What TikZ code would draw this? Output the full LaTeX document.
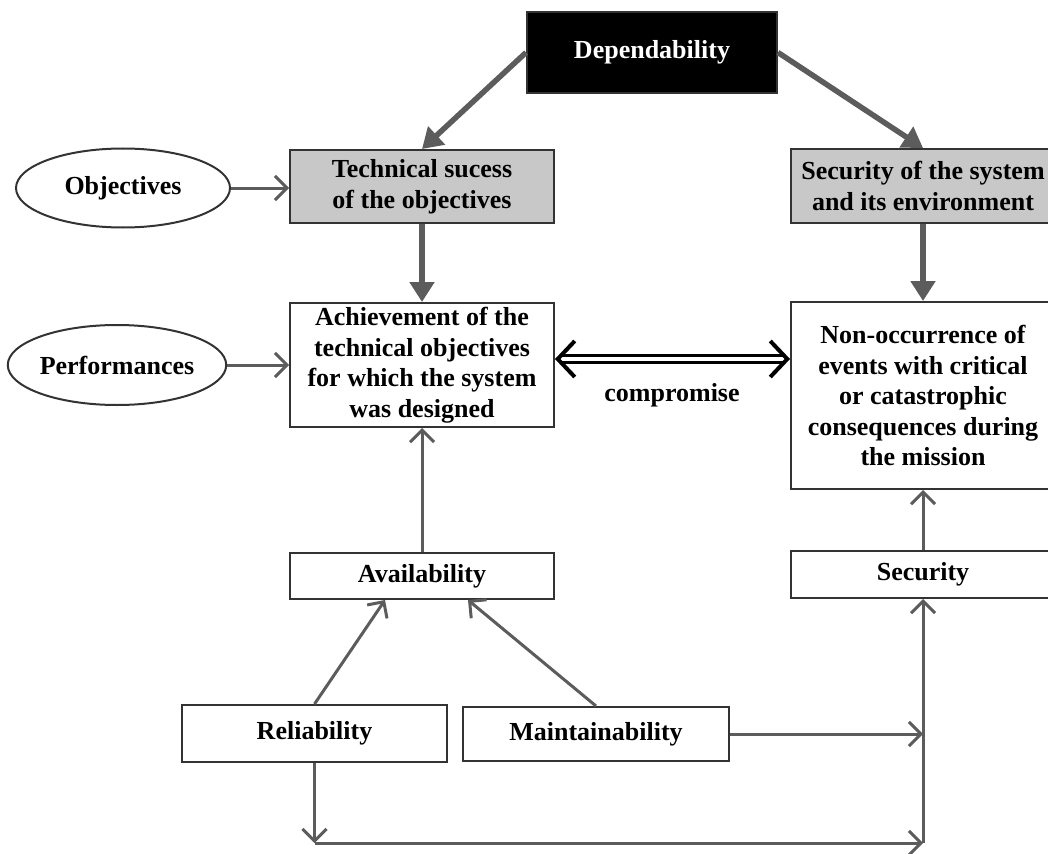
\documentclass[tikz,border=0pt]{standalone}
\usepackage{fontspec}
\setmainfont{Liberation Serif}
\usetikzlibrary{arrows.meta,shapes.geometric,calc}

\definecolor{boxline}{HTML}{333333}
\definecolor{arrowgray}{HTML}{5C5C5C}
\definecolor{headfill}{HTML}{C8C8C8}

\tikzset{
  txt/.style={font=\fontsize{26}{30.5}\selectfont\bfseries, align=center},
  box/.style={txt, draw=boxline, line width=2pt, fill=white, inner sep=0pt},
  darkbox/.style={box, fill=black, text=white},
  greybox/.style={box, fill=headfill},
  oval/.style={txt, ellipse, draw=boxline, line width=2pt, inner sep=0pt},
  thinarrow/.style={draw=arrowgray, line width=3pt,
    -{Straight Barb[length=12pt,width=24pt,line width=3pt]}},
  thickarrow/.style={draw=arrowgray, line width=5.5pt,
    -{Triangle[length=20pt,width=24pt]}},
  bothway/.style={draw=black, line width=3pt, double=white, double distance=4.5pt,
    {Straight Barb[length=17pt,width=36pt,line width=4pt]}-{Straight Barb[length=17pt,width=36pt,line width=4pt]}}
}

\begin{document}
\begin{tikzpicture}[x=1pt,y=-1pt]
\useasboundingbox (0,0) rectangle (1048,853);

% boxes
\node[darkbox, minimum width=250pt, minimum height=81pt] (dep) at (652,52.5) {Dependability};
\node[greybox, minimum width=264pt, minimum height=73pt] (tech) at (422,186.5) {Technical sucess\\of the objectives};
\node[greybox, minimum width=264pt, minimum height=74pt] (secsys) at (923,186) {Security of the system\\and its environment};
\node[oval, minimum width=214pt, minimum height=79pt] (obj) at (123,188) {Objectives};
\node[oval, minimum width=212pt, minimum height=80pt] (perf) at (117,365) {Performances};
\node[box, minimum width=264pt, minimum height=124pt] (ach) at (422,365) {Achievement of the\\technical objectives\\for which the system\\was designed};
\node[box, minimum width=264pt, minimum height=187pt] (nonocc) at (923,395.5) {Non-occurrence of\\events with critical\\or catastrophic\\consequences during\\the mission};
\node[box, minimum width=264pt, minimum height=46pt] (avail) at (422,576) {Availability};
\node[box, minimum width=264pt, minimum height=47pt] (secu) at (923,574.5) {Security};
\node[box, minimum width=265pt, minimum height=57pt] (rel) at (314.5,733.5) {Reliability};
\node[box, minimum width=266pt, minimum height=54pt] (maint) at (596,734) {Maintainability};
\node[txt] (comp) at (672,395) {compromise};

% routing points
\coordinate (cmp) at (0,359);
\coordinate (bl) at (314.5,843);
\coordinate (br) at (923,843);

% thick arrows from the top
\draw[thickarrow] (dep.west) -- (tech.north);
\draw[thickarrow] (dep.east) -- (secsys.north);
\draw[thickarrow] (tech.south) -- (ach.north);
\draw[thickarrow] (secsys.south) -- (nonocc.north);

% inputs from the ovals
\draw[thinarrow] (obj.east) -- (tech.west |- obj.east);
\draw[thinarrow] (perf.east) -- (ach.west |- perf.east);

% compromise
\draw[bothway] (ach.east |- cmp) -- (nonocc.west |- cmp);

% lower part
\draw[thinarrow] (avail.north) -- (ach.south);
\draw[thinarrow] (secu.north) -- (nonocc.south);
\draw[thinarrow] (rel.north) -- ($(avail.south)+(-37,0)$);
\draw[thinarrow] (maint.north) -- ($(avail.south)+(46,0)$);
\draw[thinarrow] (rel.south) -- (bl);
\draw[thinarrow] (bl) -- (br);
\draw[thinarrow] (br) -- (secu.south);
\draw[thinarrow] (maint.east) -- (secu.south |- maint.east);
\end{tikzpicture}
\end{document}
